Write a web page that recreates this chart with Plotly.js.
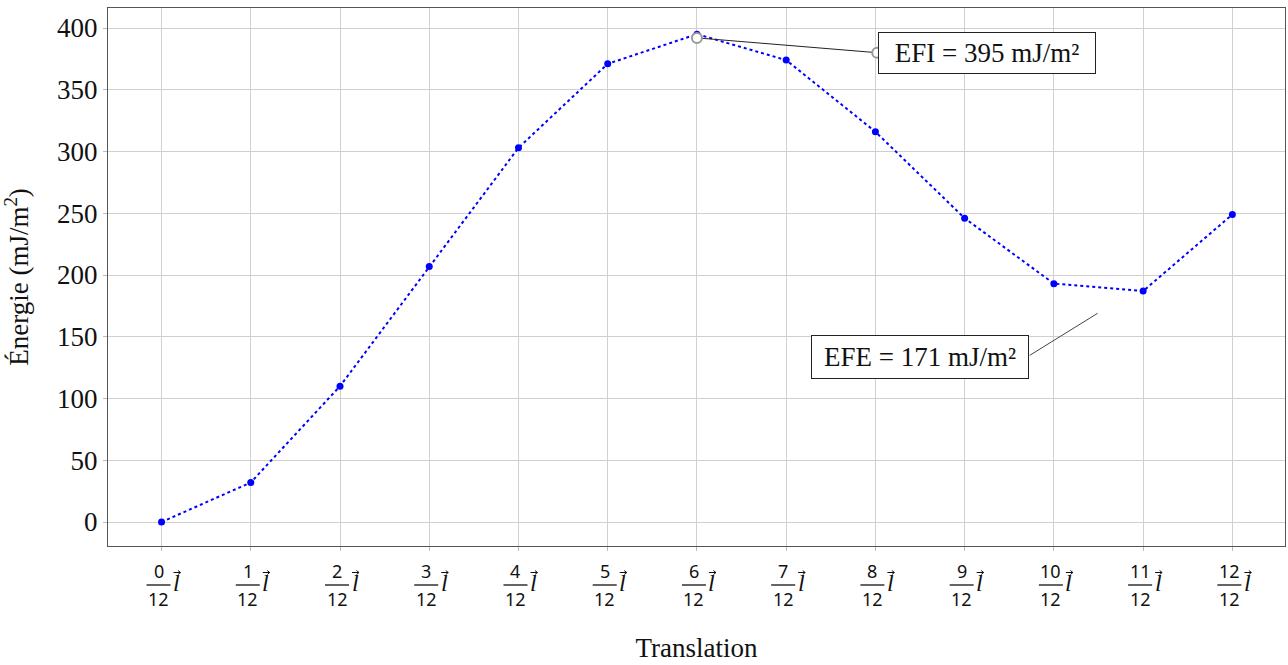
<!DOCTYPE html>
<html><head><meta charset="utf-8">
<script src="https://cdn.plot.ly/plotly-3.0.1.min.js"></script>
<style>html,body{margin:0;padding:0;background:#fff}</style>
</head><body>
<div id="chart" style="width:1288px;height:665px"></div>
<script>
const steps = [0,1,2,3,4,5,6,7,8,9,10,11,12];
const numerators = ["0","1","2","3","4","5","6","7","8","9","10","11","12"];
const denominator = "12";
const energy = [0, 32, 110, 207, 303, 371, 395, 374, 316, 246, 193, 187, 249];
const efiValue = 395;
const efeValue = 171;

const serif = "Liberation Serif, Times New Roman, serif";
const annotations = [];
const shapes = [];

steps.forEach((s, i) => {
  annotations.push({x: s, xref: 'x', y: 0, yref: 'paper', text: numerators[i], showarrow: false,
    xshift: -3, yshift: -25, yanchor: 'middle', borderpad: 0, font: {family: 'Noto Sans', size: 18, color: '#111'}});
  annotations.push({x: s, xref: 'x', y: 0, yref: 'paper', text: denominator, showarrow: false,
    xshift: -3, yshift: -53, yanchor: 'middle', borderpad: 0, font: {family: 'Noto Sans', size: 18, color: '#111'}});
  annotations.push({x: s, xref: 'x', y: 0, yref: 'paper', text: '<i>l</i>', showarrow: false,
    xshift: 15, yshift: -37, yanchor: 'middle', borderpad: 0, font: {family: serif, size: 24, color: '#111'}});
  // vector arrow above the l
  shapes.push({type: 'path', xref: 'x', yref: 'paper', xsizemode: 'pixel', ysizemode: 'pixel',
    xanchor: s, yanchor: 0, path: 'M 12,-26.5 L 19,-26.5 M 16.5,-24.5 L 19,-26.5 L 16.5,-28.5',
    line: {color: '#111', width: 1}});
  shapes.push({type: 'line', xref: 'x', yref: 'paper', xsizemode: 'pixel', ysizemode: 'pixel',
    xanchor: s, yanchor: 0, x0: -15, x1: 9, y0: -39, y1: -39, line: {color: '#111', width: 1.3}});
});

const peakIdx = energy.indexOf(Math.max(...energy));
// leader lines
shapes.push({type: 'line', xref: 'x', yref: 'y', x0: steps[peakIdx], y0: 392, x1: 8.02, y1: 380,
  line: {color: '#222', width: 1}});
shapes.push({type: 'line', xref: 'x', yref: 'y', x0: 10.49, y0: 169, x1: 9.73, y1: 135,
  line: {color: '#444', width: 1}});

annotations.push({x: 9.25, y: 380, xref: 'x', yref: 'y', text: 'EFI = ' + efiValue + ' mJ/m²',
  showarrow: false, width: 212, height: 36, bordercolor: '#222', borderwidth: 1, borderpad: 2,
  bgcolor: '#fff', font: {family: serif, size: 27, color: '#111'}});
annotations.push({x: 8.5, y: 134, xref: 'x', yref: 'y', text: 'EFE = ' + efeValue + ' mJ/m²',
  showarrow: false, width: 212, height: 38, bordercolor: '#222', borderwidth: 1, borderpad: 2,
  bgcolor: '#fff', font: {family: serif, size: 27, color: '#111'}});

shapes.push({type: 'circle', xref: 'x', yref: 'y', xsizemode: 'pixel', ysizemode: 'pixel',
  xanchor: steps[peakIdx], yanchor: 392, x0: -5, x1: 5, y0: -5, y1: 5,
  line: {color: '#999', width: 2}, fillcolor: '#fff'});
shapes.push({type: 'circle', xref: 'x', yref: 'y', xsizemode: 'pixel', ysizemode: 'pixel',
  xanchor: 8.02, yanchor: 380, x0: -5, x1: 5, y0: -5, y1: 5,
  line: {color: '#999', width: 2}, fillcolor: '#fff'});

const trace = {x: steps, y: energy, type: 'scatter', mode: 'lines+markers',
  line: {color: '#0000ff', width: 2, dash: 'dot'},
  marker: {color: '#0000ff', size: 7}, showlegend: false, hoverinfo: 'none'};

const layout = {
  width: 1288, height: 665,
  margin: {l: 108, r: 3, t: 8, b: 119},
  paper_bgcolor: '#fff', plot_bgcolor: '#fff',
  font: {family: serif, color: '#111'},
  xaxis: {range: [-0.6, 12.59], tickvals: steps, showticklabels: false,
    ticks: 'outside', ticklen: 4, tickcolor: '#bbb',
    showgrid: true, gridcolor: '#d0d0d0', gridwidth: 1, zeroline: false,
    showline: true, mirror: true, linecolor: '#555', linewidth: 1,
    title: {text: 'Translation', font: {family: serif, size: 27, color: '#111'}, standoff: 88}},
  yaxis: {range: [-19.4, 416.2], tickvals: [0,50,100,150,200,250,300,350,400],
    ticks: 'outside', ticklen: 4, tickcolor: '#bbb',
    tickfont: {family: serif, size: 27, color: '#111'},
    showgrid: true, gridcolor: '#d0d0d0', gridwidth: 1, zeroline: false,
    showline: true, mirror: true, linecolor: '#555', linewidth: 1,
    title: {text: 'Énergie (mJ/m<sup>2</sup>)', font: {family: serif, size: 27, color: '#111'}, standoff: 22}},
  annotations: annotations,
  shapes: shapes
};

Plotly.newPlot('chart', [trace], layout, {staticPlot: true, displayModeBar: false});
</script>
</body></html>
